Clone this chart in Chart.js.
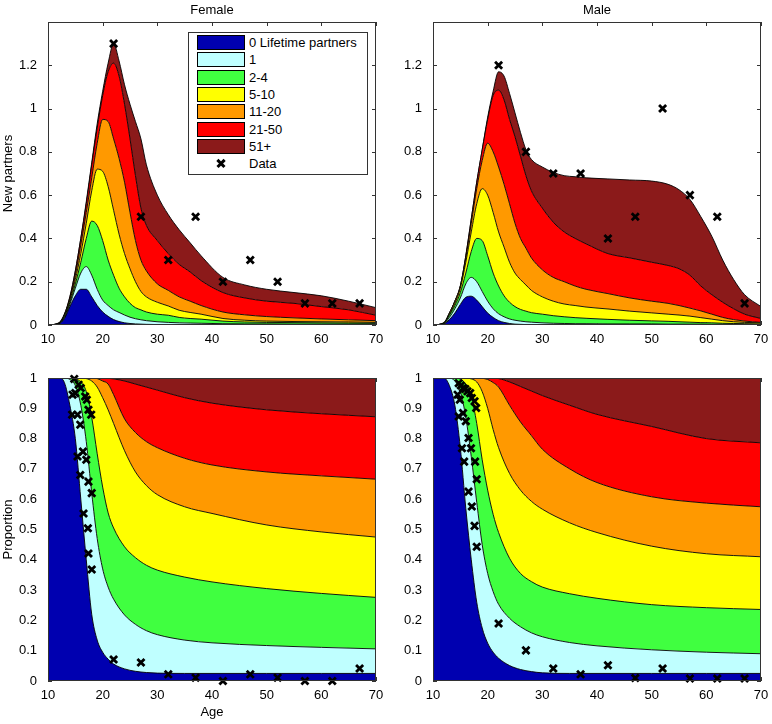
<!DOCTYPE html>
<html>
<head>
<meta charset="utf-8">
<script src="https://cdn.jsdelivr.net/npm/chart.js@4/dist/chart.umd.min.js"></script>
<style>
body { margin: 0; background: #fff; }
#wrap { position: relative; width: 772px; height: 724px; font-family: "Liberation Sans", Arial, sans-serif; }
canvas { position: absolute; }
#legend { position: absolute; left: 188px; top: 32px; width: 180px; height: 143px; border: 1px solid #333; background: #fff; box-sizing: border-box; font-size: 13px; color: #000; }
#legend div { position: absolute; box-sizing: border-box; }
.sw { left: 8px; width: 48px; height: 15px; border: 1px solid #000; }
.lb { left: 60px; height: 15px; line-height: 15px; white-space: nowrap; }
.xbar { left: 27px; width: 10px; height: 2.8px; background: #000; }
</style>
</head>
<body>
<div id="wrap">
  <canvas id="femaleNew" width="386" height="362" style="left:0;top:0"></canvas>
  <canvas id="maleNew" width="386" height="362" style="left:386px;top:0"></canvas>
  <canvas id="femaleProp" width="386" height="362" style="left:0;top:362px"></canvas>
  <canvas id="maleProp" width="386" height="362" style="left:386px;top:362px"></canvas>
  <div id="legend"></div>
</div>
<script>
const $ = document.querySelector.bind(document);

const LAYER_NAMES = [`0 Lifetime partners`, `1`, `2-4`, `5-10`, `11-20`, `21-50`, `51+`];
const LAYER_COLORS = [`#0000b0`, `#bfffff`, `#40ff40`, `#ffff00`, `#ff9900`, `#ff0000`, `#8b1a1a`];

// new partners, female (upper edge of each layer, cumulative)
const F_NEW_AGES = [10,12,13,14,15,16,17,18,19,20,21,22,23,24,25,26,27,28,30,32,34,36,38,42,46,50,55,60,65,70];
const F_NEW_0 = [0,0.005,0.03,0.085,0.135,0.165,0.165,0.13,0.09,0.06,0.04,0.025,0.016,0.01,0.007,0.005,0.004,0.003,0.002,0.001,0,0,0,0,0,0,0,0,0,0];
const F_NEW_1 = [0,0.006,0.035,0.095,0.17,0.24,0.27,0.23,0.165,0.115,0.09,0.07,0.058,0.046,0.036,0.029,0.024,0.02,0.015,0.012,0.01,0.009,0.008,0.006,0.005,0.005,0.004,0.004,0.004,0.004];
const F_NEW_2 = [0,0.007,0.04,0.105,0.19,0.29,0.40,0.48,0.46,0.39,0.30,0.23,0.17,0.13,0.10,0.08,0.07,0.06,0.05,0.045,0.035,0.03,0.027,0.018,0.014,0.012,0.011,0.01,0.009,0.008];
const F_NEW_3 = [0,0.008,0.045,0.115,0.21,0.33,0.47,0.62,0.72,0.71,0.64,0.53,0.42,0.33,0.26,0.20,0.155,0.13,0.105,0.088,0.068,0.058,0.05,0.03,0.022,0.018,0.016,0.015,0.014,0.012];
const F_NEW_4 = [0,0.008,0.045,0.12,0.23,0.37,0.52,0.68,0.84,0.95,0.94,0.86,0.77,0.66,0.52,0.39,0.30,0.25,0.19,0.16,0.13,0.11,0.09,0.06,0.047,0.039,0.033,0.028,0.024,0.02];
const F_NEW_5 = [0,0.01,0.05,0.13,0.25,0.40,0.56,0.74,0.91,1.06,1.17,1.21,1.15,1.02,0.86,0.69,0.54,0.46,0.39,0.33,0.28,0.245,0.205,0.15,0.125,0.11,0.1,0.085,0.07,0.045];
const F_NEW_6 = [0,0.01,0.05,0.13,0.25,0.40,0.57,0.75,0.93,1.08,1.21,1.30,1.22,1.11,1.02,0.94,0.86,0.74,0.60,0.51,0.44,0.38,0.32,0.22,0.185,0.165,0.15,0.135,0.11,0.08];
const F_NEW_DATA_X = [22,27,32,37,42,47,52,57,62,67];
const F_NEW_DATA_Y = [1.3,0.5,0.3,0.5,0.2,0.3,0.2,0.1,0.1,0.1];

// new partners, male
const M_NEW_AGES = [10,12,13,14,15,16,17,18,19,20,21,22,23,24,25,26,27,28,30,32,34,36,38,42,46,50,53,55,57,59,61,63,65,67,70];
const M_NEW_0 = [0,0.004,0.025,0.055,0.095,0.128,0.133,0.115,0.085,0.055,0.035,0.02,0.012,0.007,0.004,0.003,0.002,0.002,0.001,0.001,0,0,0,0,0,0,0,0,0,0,0,0,0,0,0];
const M_NEW_1 = [0,0.006,0.035,0.075,0.125,0.19,0.22,0.2,0.155,0.11,0.075,0.052,0.038,0.028,0.022,0.018,0.015,0.013,0.01,0.008,0.007,0.006,0.006,0.005,0.005,0.005,0.004,0.004,0.004,0.004,0.003,0.003,0.003,0.003,0.002];
const M_NEW_2 = [0,0.008,0.045,0.09,0.15,0.24,0.34,0.40,0.39,0.32,0.24,0.18,0.135,0.105,0.085,0.072,0.064,0.057,0.05,0.043,0.038,0.034,0.031,0.026,0.022,0.019,0.017,0.015,0.013,0.011,0.01,0.008,0.007,0.006,0.005];
const M_NEW_3 = [0,0.01,0.05,0.1,0.17,0.29,0.43,0.56,0.63,0.60,0.52,0.43,0.36,0.29,0.24,0.21,0.185,0.16,0.13,0.11,0.097,0.09,0.083,0.074,0.064,0.056,0.05,0.046,0.041,0.034,0.027,0.02,0.015,0.012,0.01];
const M_NEW_4 = [0,0.01,0.055,0.11,0.18,0.31,0.47,0.63,0.76,0.84,0.80,0.73,0.65,0.56,0.47,0.40,0.355,0.31,0.255,0.22,0.2,0.18,0.165,0.145,0.125,0.11,0.1,0.09,0.078,0.065,0.05,0.035,0.025,0.018,0.012];
const M_NEW_5 = [0,0.01,0.055,0.11,0.18,0.32,0.49,0.66,0.81,0.95,1.06,1.085,1.04,0.95,0.87,0.78,0.69,0.62,0.54,0.475,0.43,0.40,0.375,0.33,0.31,0.29,0.275,0.26,0.23,0.18,0.14,0.105,0.075,0.05,0.03];
const M_NEW_6 = [0,0.01,0.055,0.11,0.18,0.32,0.49,0.66,0.81,0.96,1.08,1.17,1.15,1.07,0.98,0.89,0.81,0.765,0.73,0.705,0.69,0.685,0.68,0.675,0.67,0.665,0.65,0.625,0.58,0.50,0.41,0.30,0.21,0.14,0.085];
const M_NEW_DATA_X = [22,27,32,37,42,47,52,57,62,67];
const M_NEW_DATA_Y = [1.2,0.8,0.7,0.7,0.4,0.5,1.0,0.6,0.5,0.1];

// proportions (upper edge of each layer, cumulative; 51+ fills to 1)
const PROP_AGES = [10,12,13,14,15,16,17,18,19,20,21,22,24,26,28,30,35,40,50,60,70];
const F_PROP_0 = [1,1,0.985,0.91,0.8,0.6,0.4,0.22,0.135,0.095,0.072,0.056,0.04,0.032,0.028,0.026,0.025,0.025,0.025,0.025,0.025];
const F_PROP_1 = [1,1,1,0.995,0.975,0.91,0.79,0.62,0.47,0.37,0.31,0.27,0.218,0.187,0.166,0.153,0.135,0.126,0.117,0.111,0.106];
const F_PROP_2 = [1,1,1,1,0.997,0.987,0.955,0.87,0.75,0.64,0.555,0.505,0.443,0.407,0.382,0.366,0.343,0.327,0.305,0.289,0.276];
const F_PROP_3 = [1,1,1,1,1,1,0.998,0.99,0.97,0.935,0.895,0.85,0.76,0.69,0.645,0.615,0.575,0.553,0.515,0.492,0.475];
const F_PROP_4 = [1,1,1,1,1,1,1,1,0.998,0.99,0.98,0.945,0.865,0.82,0.79,0.77,0.735,0.713,0.69,0.677,0.666];
const F_PROP_5 = [1,1,1,1,1,1,1,1,1,1,0.999,0.997,0.99,0.98,0.97,0.96,0.935,0.917,0.895,0.882,0.872];
const F_PROP_DATA_X = [14.8,15.6,16.0,14.5,15.0,16.8,17.1,17.4,17.9,14.4,15.4,15.9,16.4,15.4,17.0,15.9,17.4,18.0,16.5,17.3,17.4,18.0,22,27,32,37,42,47,52,57,62,67];
const F_PROP_DATA_Y = [0.997,0.978,0.967,0.945,0.95,0.939,0.928,0.895,0.879,0.879,0.879,0.846,0.757,0.741,0.73,0.68,0.658,0.62,0.553,0.504,0.421,0.368,0.071,0.061,0.022,0.011,0,0.022,0.011,0,0,0.041];

const M_PROP_0 = [1,1,0.975,0.91,0.77,0.57,0.4,0.26,0.175,0.125,0.095,0.075,0.051,0.038,0.031,0.027,0.025,0.025,0.025,0.025,0.025];
const M_PROP_1 = [1,1,1,0.99,0.955,0.87,0.74,0.59,0.45,0.355,0.295,0.253,0.207,0.179,0.159,0.146,0.127,0.116,0.103,0.095,0.09];
const M_PROP_2 = [1,1,1,1,0.996,0.98,0.94,0.85,0.73,0.63,0.55,0.49,0.405,0.355,0.328,0.31,0.288,0.273,0.252,0.242,0.236];
const M_PROP_3 = [1,1,1,1,1,1,0.997,0.987,0.955,0.9,0.83,0.77,0.685,0.63,0.593,0.567,0.522,0.49,0.445,0.42,0.41];
const M_PROP_4 = [1,1,1,1,1,1,1,1,0.999,0.995,0.985,0.97,0.91,0.855,0.81,0.765,0.7,0.655,0.608,0.587,0.575];
const M_PROP_5 = [1,1,1,1,1,1,1,1,1,1,0.999,0.998,0.987,0.972,0.957,0.942,0.91,0.88,0.84,0.8,0.786];
const M_PROP_DATA_X = [14.7,15.1,15.5,15.9,16.3,16.8,17.1,17.6,17.9,14.5,14.9,14.7,15.5,16.0,16.5,16.95,15.3,15.7,17.7,18.0,16.5,17.1,17.6,18.0,22,27,32,37,42,47,52,57,62,67];
const M_PROP_DATA_Y = [0.983,0.975,0.967,0.964,0.956,0.95,0.934,0.923,0.901,0.945,0.928,0.873,0.884,0.857,0.802,0.768,0.768,0.724,0.724,0.666,0.625,0.576,0.512,0.443,0.19,0.101,0.041,0.022,0.052,0.01,0.041,0.008,0.008,0.008];

Chart.defaults.font.family = `"Liberation Sans", Arial, sans-serif`;
Chart.defaults.font.size = 13;
Chart.defaults.color = `#000`;

// matlab style: inward ticks under the patches, box on top
const boxPlugin = {
  id: `box`,
  beforeDatasetsDraw(chart) {
    const {ctx, chartArea: a, scales} = chart;
    ctx.save();
    ctx.strokeStyle = `#333`;
    ctx.lineWidth = 1;
    ctx.beginPath();
    scales.x.ticks.forEach((t) => {
      const px = Math.round(scales.x.getPixelForValue(t.value)) + 0.5;
      ctx.moveTo(px, a.bottom); ctx.lineTo(px, a.bottom - 4);
      ctx.moveTo(px, a.top); ctx.lineTo(px, a.top + 4);
    });
    scales.y.ticks.forEach((t) => {
      const py = Math.round(scales.y.getPixelForValue(t.value)) + 0.5;
      ctx.moveTo(a.left, py); ctx.lineTo(a.left + 4, py);
      ctx.moveTo(a.right, py); ctx.lineTo(a.right - 4, py);
    });
    ctx.stroke();
    ctx.restore();
  },
  afterDatasetsDraw(chart) {
    const {ctx, chartArea: a} = chart;
    ctx.save();
    ctx.strokeStyle = `#333`;
    ctx.lineWidth = 1;
    ctx.strokeRect(Math.round(a.left) + 0.5, Math.round(a.top) + 0.5, Math.round(a.right - a.left) - 1, Math.round(a.bottom - a.top) - 1);
    ctx.restore();
  }
};

function titlePlugin(text) {
  return {
    id: `panelTitle`,
    afterDraw(chart) {
      if (!text) return;
      const {ctx, chartArea: a} = chart;
      ctx.save();
      ctx.font = `13px "Liberation Sans", Arial, sans-serif`;
      ctx.fillStyle = `#000`;
      ctx.textAlign = `center`;
      ctx.textBaseline = `middle`;
      ctx.fillText(text, (a.left + a.right) / 2, 10);
      ctx.restore();
    }
  };
}

function layerSets(ages, bounds) {
  const sets = bounds.map((vals, i) => ({
    label: LAYER_NAMES[i],
    data: ages.map((a, j) => ({x: a, y: vals[j]})),
    borderColor: `#000`,
    borderWidth: 0.9,
    backgroundColor: LAYER_COLORS[i],
    fill: i === 0 ? `origin` : `-1`,
    pointRadius: 0,
    cubicInterpolationMode: `monotone`
  }));
  if (bounds.length === 6) {
    // 51+ layer reaches the top (proportion 1)
    sets.push({
      label: LAYER_NAMES[6],
      data: ages.map((a, j) => ({x: a, y: bounds[5][j]})),
      borderWidth: 0,
      backgroundColor: LAYER_COLORS[6],
      fill: `end`,
      pointRadius: 0,
      cubicInterpolationMode: `monotone`
    });
  }
  return sets;
}

function dataSet(xs, ys) {
  return {
    label: `Data`,
    data: xs.map((x, i) => ({x: x, y: ys[i]})),
    showLine: false,
    fill: false,
    pointStyle: `crossRot`,
    pointRadius: 5,
    borderColor: `#000`,
    backgroundColor: `#000`,
    borderWidth: 2.8,
    order: -1,
    clip: false
  };
}

function makePanel(id, p) {
  return new Chart($(id).getContext(`2d`), {
    type: `line`,
    data: {datasets: layerSets(p.ages, p.bounds).concat([dataSet(p.dx, p.dy)])},
    options: {
      responsive: false,
      animation: false,
      events: [],
      layout: {padding: {top: p.top, right: p.right, left: 0, bottom: 0}},
      plugins: {legend: {display: false}, tooltip: {enabled: false}},
      scales: {
        x: {
          type: `linear`, min: 10, max: 70,
          ticks: {stepSize: 10, padding: -1},
          grid: {display: false},
          border: {display: false},
          title: {display: !!p.xTitle, text: p.xTitle || ``, padding: {top: 0, bottom: 4}},
          afterFit: (s) => { s.height = p.xh; }
        },
        y: {
          type: `linear`, min: 0, max: p.ymax,
          ticks: {stepSize: p.step, padding: 3, callback: (v) => String(Math.round(v * 10) / 10)},
          grid: {display: false},
          border: {display: false},
          title: {display: !!p.yTitle, text: p.yTitle || ``, padding: {top: 1, bottom: 0}},
          afterBuildTicks: (s) => { s.ticks = s.ticks.filter((t) => t.value <= p.tickMax + 1e-9); },
          afterFit: (s) => { s.width = p.yw; }
        }
      }
    },
    plugins: [boxPlugin, titlePlugin(p.title)]
  });
}

makePanel(`#femaleNew`, {
  ages: F_NEW_AGES, bounds: [F_NEW_0, F_NEW_1, F_NEW_2, F_NEW_3, F_NEW_4, F_NEW_5, F_NEW_6],
  dx: F_NEW_DATA_X, dy: F_NEW_DATA_Y, title: `Female`, yTitle: `New partners`,
  ymax: 1.4, step: 0.2, tickMax: 1.2, top: 22, right: 10, yw: 48, xh: 37
});
makePanel(`#maleNew`, {
  ages: M_NEW_AGES, bounds: [M_NEW_0, M_NEW_1, M_NEW_2, M_NEW_3, M_NEW_4, M_NEW_5, M_NEW_6],
  dx: M_NEW_DATA_X, dy: M_NEW_DATA_Y, title: `Male`,
  ymax: 1.4, step: 0.2, tickMax: 1.2, top: 22, right: 11, yw: 47, xh: 37
});
makePanel(`#femaleProp`, {
  ages: PROP_AGES, bounds: [F_PROP_0, F_PROP_1, F_PROP_2, F_PROP_3, F_PROP_4, F_PROP_5],
  dx: F_PROP_DATA_X, dy: F_PROP_DATA_Y, yTitle: `Proportion`, xTitle: `Age`,
  ymax: 1, step: 0.1, tickMax: 1, top: 16, right: 10, yw: 48, xh: 43
});
makePanel(`#maleProp`, {
  ages: PROP_AGES, bounds: [M_PROP_0, M_PROP_1, M_PROP_2, M_PROP_3, M_PROP_4, M_PROP_5],
  dx: M_PROP_DATA_X, dy: M_PROP_DATA_Y,
  ymax: 1, step: 0.1, tickMax: 1, top: 16, right: 11, yw: 47, xh: 43
});

// legend box drawn over the female panel
const legend = $(`#legend`);
LAYER_NAMES.forEach((name, i) => {
  const top = 2 + 17.3 * i;
  legend.innerHTML += `<div class="sw" style="top:${top}px;background:${LAYER_COLORS[i]}"></div>`;
  legend.innerHTML += `<div class="lb" style="top:${top}px">${name}</div>`;
});
const dataTop = 2 + 17.3 * 7;
legend.innerHTML += `<div class="xbar" style="top:${dataTop + 6}px;transform:rotate(45deg)"></div>`;
legend.innerHTML += `<div class="xbar" style="top:${dataTop + 6}px;transform:rotate(-45deg)"></div>`;
legend.innerHTML += `<div class="lb" style="top:${dataTop}px">Data</div>`;
</script>
</body>
</html>
